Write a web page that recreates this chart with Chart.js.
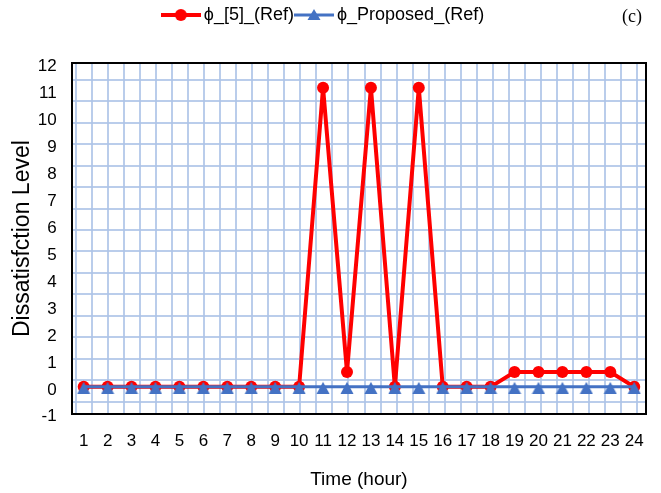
<!DOCTYPE html>
<html>
<head>
<meta charset="utf-8">
<script src="https://cdn.jsdelivr.net/npm/chart.js@4/dist/chart.umd.min.js"></script>
<style>
  html, body { margin: 0; padding: 0; background: #fff; }
  #wrap { width: 661px; height: 493px; }
</style>
</head>
<body>
<div id="wrap"><canvas id="myChart"></canvas></div>
<script>
const hours = ['1','2','3','4','5','6','7','8','9','10','11','12','13','14','15','16','17','18','19','20','21','22','23','24'];
const ref5 = [0,0,0,0,0,0,0,0,0,0,11.1,0.55,11.1,0,11.1,0,0,0,0.55,0.55,0.55,0.55,0.55,0];
const proposed = [0,0,0,0,0,0,0,0,0,0,0,0,0,0,0,0,0,0,0,0,0,0,0,0];
const seriesNames = ['\u03d5_[5]_(Ref)', '\u03d5_Proposed_(Ref)'];
const yMin = -1, yMax = 12;

const RED = '#ff0000';
const BLUE = '#4472c4';
const GRIDBLUE = 'rgba(174,196,232,0.85)';

// triangle marker sitting a bit low on its point, like the Excel one
function triMarker(color) {
    const c = document.createElement('canvas');
    c.width = 14; c.height = 14;
    const g = c.getContext('2d');
    g.fillStyle = color;
    g.beginPath();
    g.moveTo(7, 2); g.lineTo(13.5, 14); g.lineTo(0.5, 14); g.closePath();
    g.fill();
    return c;
}
const triBlue = triMarker(BLUE);

// legend symbol: short line with the marker on it
function legendSymbol(color, lineW, shape) {
    const c = document.createElement('canvas');
    c.width = 40; c.height = 16;
    const g = c.getContext('2d');
    g.strokeStyle = color;
    g.lineWidth = lineW;
    g.beginPath();
    g.moveTo(0, 8); g.lineTo(40, 8);
    g.stroke();
    g.fillStyle = color;
    g.beginPath();
    if (shape === 'circle') {
        g.arc(20, 8, 6, 0, Math.PI * 2);
    } else {
        g.moveTo(20, 2); g.lineTo(26.5, 13); g.lineTo(13.5, 13); g.closePath();
    }
    g.fill();
    return c;
}
const symRed = legendSymbol(RED, 4, 'circle');
const symBlue = legendSymbol(BLUE, 3, 'triangle');

// graph-paper background (fixed pitch, independent of the value ticks)
function paperTicks(count, start) {
    return function (scale) {
        const t = [];
        for (let i = 0; i < count; i++) t.push({ value: start + i });
        scale.ticks = t;
    };
}

const cornerLabel = {
    id: 'cornerLabel',
    afterDraw(chart) {
        const ctx = chart.ctx;
        ctx.save();
        ctx.font = '18px "Liberation Serif", "Times New Roman", serif';
        ctx.fillStyle = '#000';
        ctx.textAlign = 'center';
        ctx.textBaseline = 'middle';
        ctx.fillText('(c)', 632, 17);
        ctx.restore();
    }
};

Chart.defaults.font.family = '"Liberation Sans", Arial, sans-serif';
Chart.defaults.color = '#000';

const ctx = document.getElementById('myChart').getContext('2d');
const myChart = new Chart(ctx, {
    type: 'line',
    data: {
        labels: hours,
        datasets: [{
            label: seriesNames[0],
            data: ref5,
            borderColor: RED,
            backgroundColor: RED,
            borderWidth: 4,
            pointRadius: 6,
            pointStyle: 'circle',
            pointBorderWidth: 0,
            order: 2
        }, {
            label: seriesNames[1],
            data: proposed,
            borderColor: BLUE,
            backgroundColor: BLUE,
            borderWidth: 3,
            pointRadius: 7,
            pointStyle: triBlue,
            pointBorderWidth: 0,
            order: 1
        }]
    },
    options: {
        responsive: true,
        maintainAspectRatio: false,
        animation: false,
        layout: { padding: { left: 4, right: 14, top: 0, bottom: 2 } },
        plugins: {
            legend: {
                position: 'top',
                labels: {
                    usePointStyle: true,
                    pointStyleWidth: 28,
                    padding: 6,
                    font: { size: 18 },
                    color: '#000',
                    generateLabels: () => [
                        { text: seriesNames[0], pointStyle: symRed, datasetIndex: 0, fontColor: '#000', strokeStyle: RED, fillStyle: RED, lineWidth: 0 },
                        { text: seriesNames[1], pointStyle: symBlue, datasetIndex: 1, fontColor: '#000', strokeStyle: BLUE, fillStyle: BLUE, lineWidth: 0 }
                    ]
                }
            },
            tooltip: { enabled: false }
        },
        scales: {
            x: {
                type: 'category',
                offset: true,
                grid: { display: false, drawTicks: false },
                border: { display: true, color: '#000', width: 2 },
                ticks: { font: { size: 17 }, padding: 17, maxRotation: 0, autoSkip: false },
                title: { display: true, text: 'Time (hour)', font: { size: 19 }, padding: { top: 0, bottom: 0 } }
            },
            y: {
                min: yMin,
                max: yMax,
                grid: { display: false, drawTicks: false },
                border: { display: true, color: '#000', width: 2 },
                ticks: { stepSize: 1, font: { size: 17 }, padding: 15, labelOffset: 3 },
                title: { display: true, text: 'Dissatisfction Level', font: { size: 23 }, padding: { top: 5, bottom: -13.8 } }
            },
            xg: {
                type: 'linear',
                position: 'top',
                min: -0.293,
                max: 35.6,
                afterBuildTicks: paperTicks(36, 0),
                ticks: { display: false },
                grid: { color: GRIDBLUE, lineWidth: 2, drawTicks: false },
                border: { display: true, color: '#000', width: 2 },
                title: { display: true, text: ' ', font: { size: 12 }, padding: { top: 8, bottom: 7 } }
            },
            yg: {
                type: 'linear',
                position: 'right',
                min: 0,
                max: 16.34,
                afterBuildTicks: paperTicks(16, 0.57),
                ticks: { display: false },
                grid: { color: GRIDBLUE, lineWidth: 2, drawTicks: false },
                border: { display: true, color: '#000', width: 2 }
            }
        }
    },
    plugins: [cornerLabel]
});
</script>
</body>
</html>
